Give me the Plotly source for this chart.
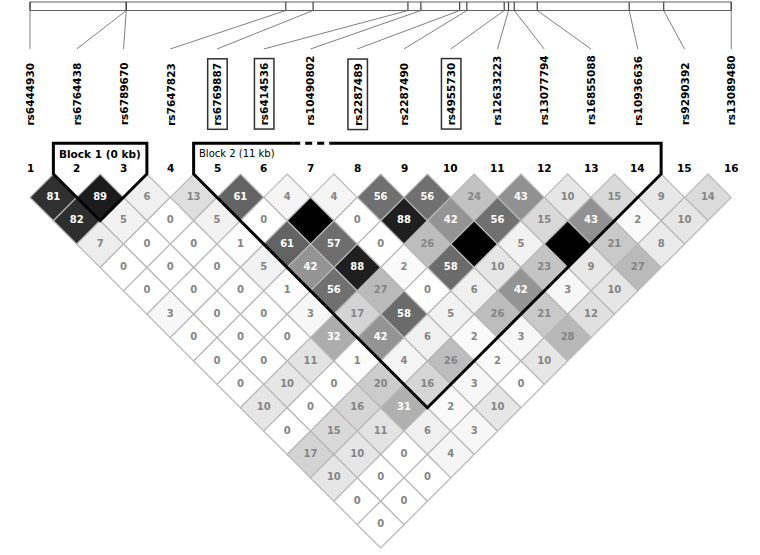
import plotly.graph_objects as go

marker_names = [
    'rs6444930', 'rs6764438', 'rs6789670', 'rs7647823', 'rs6769887',
    'rs6414536', 'rs10490802', 'rs2287489', 'rs2287490', 'rs4955730',
    'rs12633223', 'rs13077794', 'rs16855088', 'rs10936636', 'rs9290392',
    'rs13089480',
]
# relative physical position of each marker (kb)
marker_kb = [0, 3.35, 3.35, 8.9, 9.85, 13.15, 13.6, 14.95, 15.2,
             16.5, 16.65, 16.85, 17.65, 20.85, 22.05, 24.4]
tagged = ['rs6769887', 'rs6414536', 'rs2287489', 'rs4955730']

# r^2 x100, row k holds the pairs (i, i+k)
r2_rows = [
    [81, 89, 6, 13, 61, 4, 4, 56, 56, 24, 43, 10, 15, 9, 14],
    [82, 5, 0, 5, 0, 100, 0, 88, 42, 56, 15, 43, 2, 10],
    [7, 0, 0, 1, 61, 57, 0, 26, 100, 5, 100, 21, 8],
    [0, 0, 0, 5, 42, 88, 2, 58, 10, 23, 9, 27],
    [0, 0, 0, 1, 56, 27, 0, 6, 42, 3, 10],
    [3, 0, 0, 3, 17, 58, 5, 26, 21, 12],
    [0, 0, 0, 32, 42, 6, 2, 3, 28],
    [0, 0, 11, 1, 4, 26, 2, 10],
    [0, 10, 0, 20, 16, 3, 0],
    [10, 0, 16, 31, 2, 10],
    [0, 15, 11, 6, 3],
    [17, 10, 0, 4],
    [10, 0, 0],
    [0, 0],
    [0],
]

block_first = [2, 5]
block_last = [3, 14]
block_labels = ['Block 1 (0 kb)', 'Block 2 (11 kb)']

n = len(marker_names)
FONT = 'DejaVu Sans'

# vertical layout (axis units, y grows downward)
Y_BAR_TOP, Y_BAR_BOT = -3.68, -3.497
Y_LINK_END = -2.674
Y_NAME = -0.94
Y_BLOCK_TOP = -0.66
Y_BLOCK_LABEL = -0.43
Y_NUM = -0.12

fig = go.Figure()
shapes = []

# LD diamonds
cx, cy, txt, tcol = [], [], [], []
for k, row in enumerate(r2_rows, start=1):
    for i, v in enumerate(row, start=1):
        j = i + k
        x, y = (i + j) / 2, k / 2
        g = round(255 * (1 - v / 100))
        shapes.append(dict(
            type='path', xref='x', yref='y',
            path=f'M {x},{y - 0.5} L {x + 0.5},{y} L {x},{y + 0.5} L {x - 0.5},{y} Z',
            fillcolor=f'rgb({g},{g},{g})',
            line=dict(color='#b8b8b8', width=1.2),
            layer='below',
        ))
        if v < 100:
            cx.append(x)
            cy.append(y)
            txt.append(str(v))
            tcol.append('white' if v >= 30 else '#858585')

fig.add_trace(go.Scatter(
    x=cx, y=cy, text=txt, mode='text',
    textfont=dict(family=FONT, size=10, color=tcol, weight='bold'),
    hoverinfo='skip',
))

# block outlines
for b0, b1 in zip(block_first, block_last):
    xl, xr = b0 - 0.5, b1 + 0.5
    tip_x, tip_y = (b0 + b1) / 2, (b1 - b0 + 1) / 2
    shapes.append(dict(
        type='path', xref='x', yref='y',
        path=f'M {xl},0 L {xl},{Y_BLOCK_TOP} L {xr},{Y_BLOCK_TOP} L {xr},0 '
             f'L {tip_x},{tip_y} Z',
        line=dict(color='black', width=3),
    ))
# dashed gap on top of block 2
shapes.append(dict(
    type='line', xref='x', yref='y',
    x0=6.63, x1=7.42, y0=Y_BLOCK_TOP, y1=Y_BLOCK_TOP,
    line=dict(color='white', width=4),
))
shapes.append(dict(
    type='line', xref='x', yref='y',
    x0=6.63, x1=7.42, y0=Y_BLOCK_TOP, y1=Y_BLOCK_TOP,
    line=dict(color='black', width=3, dash='7px,5px'),
))

# physical map bar and links
phys_x = [1 + kb / marker_kb[-1] * (n - 1) for kb in marker_kb]
shapes.append(dict(
    type='rect', xref='x', yref='y',
    x0=phys_x[0], x1=phys_x[-1], y0=Y_BAR_TOP, y1=Y_BAR_BOT,
    line=dict(color='#606060', width=1), fillcolor='white',
))
for m, px in enumerate(phys_x, start=1):
    shapes.append(dict(
        type='line', xref='x', yref='y',
        x0=px, x1=px, y0=Y_BAR_TOP, y1=Y_BAR_BOT,
        line=dict(color='#404040', width=1.2),
    ))
    shapes.append(dict(
        type='line', xref='x', yref='y',
        x0=px, x1=m, y0=Y_BAR_BOT, y1=Y_LINK_END,
        line=dict(color='#707070', width=0.9),
    ))

annotations = []
for m, name in enumerate(marker_names, start=1):
    boxed = name in tagged
    annotations.append(dict(
        x=m, y=Y_NAME, xref='x', yref='y', text=name, showarrow=False,
        textangle=-90, xanchor='center', yanchor='bottom',
        font=dict(family=FONT, size=10.5, color='black', weight='bold'),
        bordercolor='#303030' if boxed else 'rgba(0,0,0,0)',
        borderwidth=1.5, borderpad=3,
    ))
    annotations.append(dict(
        x=m, y=Y_NUM, xref='x', yref='y', text=str(m), showarrow=False,
        xanchor='center', yanchor='middle',
        font=dict(family=FONT, size=10.5, color='black', weight='bold'),
    ))

annotations.append(dict(
    x=(block_first[0] + block_last[0]) / 2, y=Y_BLOCK_LABEL, xref='x', yref='y',
    text=block_labels[0], showarrow=False, xanchor='center', yanchor='middle',
    font=dict(family=FONT, size=10.5, color='black', weight='bold'),
))
annotations.append(dict(
    x=block_first[1] - 0.43, y=Y_BLOCK_LABEL, xref='x', yref='y',
    text=block_labels[1], showarrow=False, xanchor='left', yanchor='middle',
    font=dict(family=FONT, size=10, color='black'),
))

unit = 46.75
W, H = 760, 555
x_start = 1 - 30 / unit
y_top = -174 / unit
fig.update_layout(
    width=W, height=H,
    margin=dict(l=0, r=0, t=0, b=0),
    paper_bgcolor='white', plot_bgcolor='white',
    showlegend=False,
    shapes=shapes,
    annotations=annotations,
    xaxis=dict(range=[x_start, x_start + W / unit], visible=False, fixedrange=True),
    yaxis=dict(range=[y_top + H / unit, y_top], visible=False, fixedrange=True),
)

# drop the default page margin so the figure sits at the window's corner
fig.write_html('out.html', config={'displayModeBar': False},
               post_script="document.body.style.margin='0';")
